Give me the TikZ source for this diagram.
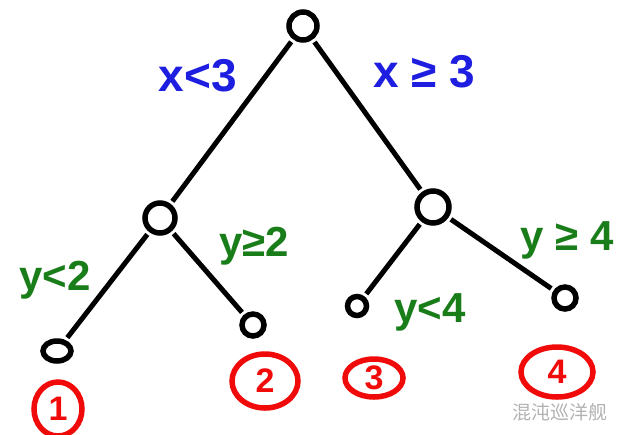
\documentclass[tikz,border=0pt]{standalone}
\usepackage{fontspec}
\setmainfont{Liberation Sans}
\newfontfamily\cjk{Noto Sans CJK SC}
\usetikzlibrary{shapes.geometric, positioning, calc}
\definecolor{condblue}{RGB}{30,30,225}
\definecolor{condgreen}{RGB}{25,125,25}
\definecolor{leafred}{RGB}{240,10,10}
\tikzset{
	split/.style={circle, draw, line width=5.5pt, minimum size=28pt, inner sep=0pt},
	leaf/.style={circle, draw, line width=5.5pt, minimum size=22pt, inner sep=0pt},
	branch/.style={line width=5pt, shorten <=3pt, shorten >=3pt},
	xcond/.style={text=condblue, font=\bfseries\fontsize{46}{46}\selectfont},
	ycond/.style={text=condgreen, font=\bfseries\fontsize{42}{42}\selectfont},
	classid/.style={ellipse, draw=leafred, text=leafred, line width=5.5pt, inner sep=0pt, font=\bfseries\fontsize{34}{34}\selectfont}
}
\begin{document}
\begin{tikzpicture}[x=1pt, y=-1pt]
        \useasboundingbox (0,0) rectangle (628,434);

        % tree
        \node[split] (root) at (303, 26) {};
        \node[split, minimum size=30pt] (xl) at (160, 218) {};
        \node[split, minimum size=32pt] (xr) at (433, 207) {};
        \node[leaf, ellipse, minimum width=28pt, minimum height=20pt] (l1) at (57, 351) {};
        \node[leaf] (l2) at (253, 325) {};
        \node[leaf, minimum size=19pt] (l3) at (357, 306) {};
        \node[leaf] (l4) at (565, 298) {};

        \draw[branch] (root) -- (xl);
        \draw[branch] (root) -- (xr);
        \draw[branch] (xl) -- (l1);
        \draw[branch] (xl) -- (l2);
        \draw[branch] (xr) -- (l3);
        \draw[branch] (xr) -- (l4);

        % split conditions
        \node[xcond] (xlt) at (198, 76) {x<3};
        \node[xcond] (xge) at (424, 72) {x ≥ 3};
        \node[ycond] (ylt2) at (55, 280) {y<2};
        \node[ycond] (yge2) at (254, 246) {y≥2};
        \node[ycond] (ylt4) at (430, 312) {y<4};
        \node[ycond] (yge4) at (567, 240) {y ≥ 4};

        % classes
        \node[classid, minimum width=48pt, minimum height=54pt] (c1) at (58, 409) {1};
        \node[classid, minimum width=66pt, minimum height=54pt] (c2) at (265, 381) {2};
        \node[classid, minimum width=58pt, minimum height=38pt] (c3) at (374, 378) {3};
        \node[classid, minimum width=72pt, minimum height=50pt] (c4) at (557, 372) {4};

        % watermark
        \node[text=black!30, font=\cjk\fontsize{19}{19}\selectfont] (mark) at (560, 412) {混沌巡洋舰};
\end{tikzpicture}
\end{document}
